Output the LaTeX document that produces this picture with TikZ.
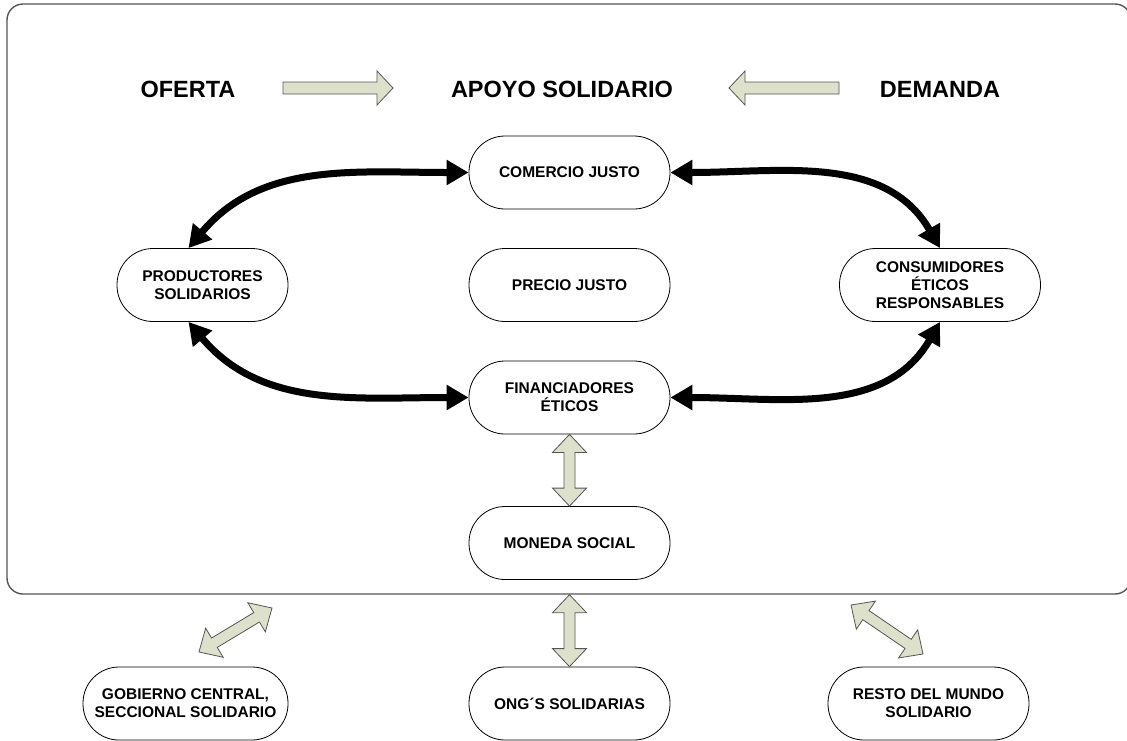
\documentclass[tikz,border=0pt]{standalone}
\usepackage{fontspec}
\setmainfont{Liberation Sans}
\usetikzlibrary{calc,arrows.meta}
\definecolor{sage}{RGB}{221,225,203}
\definecolor{edgegray}{RGB}{85,85,85}
\tikzset{
 pill/.style={draw=black, line width=0.8pt, fill=white, rounded corners=36pt, minimum width=201pt, minimum height=73pt, inner sep=2pt, align=center, font=\bfseries\fontsize{15.5}{17.8}\selectfont},
 biglabel/.style={font=\bfseries\fontsize{23.5}{27}\selectfont, inner sep=0pt},
 curvearrow/.style={line width=7pt, {Triangle[length=22pt,width=24pt]}-{Triangle[length=22pt,width=24pt]}},
 blockarrow/.style={draw=edgegray, line width=0.8pt, fill=sage, line join=miter},
 framebox/.style={draw=edgegray, line width=1.4pt, rounded corners=16pt, minimum width=1124pt, minimum height=590pt, inner sep=0pt}
}
\newcommand{\dblblock}[2]{%
 \draw[blockarrow] (#1)
 -- ($(#1)!18pt!(#2)!17pt!90:(#2)$)
 -- ($(#1)!18pt!(#2)!5.5pt!90:(#2)$)
 -- ($(#2)!18pt!(#1)!5.5pt!-90:(#1)$)
 -- ($(#2)!18pt!(#1)!17pt!-90:(#1)$)
 -- (#2)
 -- ($(#2)!18pt!(#1)!17pt!90:(#1)$)
 -- ($(#2)!18pt!(#1)!5.5pt!90:(#1)$)
 -- ($(#1)!18pt!(#2)!5.5pt!-90:(#2)$)
 -- ($(#1)!18pt!(#2)!17pt!-90:(#2)$)
 -- cycle;}
\newcommand{\sglblock}[2]{%
 \draw[blockarrow] ($(#1)!6pt!90:(#2)$)
 -- ($(#2)!16pt!(#1)!6pt!-90:(#1)$)
 -- ($(#2)!16pt!(#1)!17pt!-90:(#1)$)
 -- (#2)
 -- ($(#2)!16pt!(#1)!17pt!90:(#1)$)
 -- ($(#2)!16pt!(#1)!6pt!90:(#1)$)
 -- ($(#1)!6pt!-90:(#2)$)
 -- cycle;}
\begin{document}
\begin{tikzpicture}[x=1pt,y=1pt]
\useasboundingbox (0,0) rectangle (1127,-740);
\node[framebox] (frame) at (569,-299) {};

\node[biglabel] (ofe) at (188,-89) {OFERTA};
\node[biglabel] (apo) at (562,-89) {APOYO SOLIDARIO};
\node[biglabel] (dem) at (940,-89) {DEMANDA};
\coordinate (oa1) at (283,-88);
\coordinate (oa2) at (393,-88);
\coordinate (da1) at (839,-88);
\coordinate (da2) at (729,-88);
\sglblock{oa1}{oa2}
\sglblock{da1}{da2}

\node[pill] (com) at (569.5,-172.5) {COMERCIO JUSTO};
\node[pill, minimum width=171pt] (prod) at (202.5,-285) {PRODUCTORES\\SOLIDARIOS};
\node[pill] (pre) at (569.5,-285) {PRECIO JUSTO};
\node[pill] (cons) at (940,-285) {CONSUMIDORES\\ÉTICOS\\RESPONSABLES};
\node[pill] (fin) at (569.5,-397.5) {FINANCIADORES\\ÉTICOS};
\node[pill] (mon) at (569.5,-543) {MONEDA SOCIAL};
\node[pill, minimum width=205pt] (gob) at (185.5,-703.5) {GOBIERNO CENTRAL,\\SECCIONAL SOLIDARIO};
\node[pill] (ong) at (569.5,-703.5) {ONG´S SOLIDARIAS};
\node[pill] (resto) at (928.5,-703.5) {RESTO DEL MUNDO\\SOLIDARIO};

\draw[curvearrow] ([xshift=-14pt]prod.north) to[out=50,in=180] (com.west);
\draw[curvearrow] ([xshift=-14pt]prod.south) to[out=-50,in=180] (fin.west);
\draw[curvearrow] (com.east) to[out=0,in=120] (cons.north);
\draw[curvearrow] (fin.east) to[out=0,in=-120] (cons.south);

\dblblock{fin.south}{mon.north}
\coordinate (ongtop) at (frame.south -| ong.north);
\dblblock{ongtop}{ong.north}
\coordinate (g1) at (199,-652);
\coordinate (g2) at (272,-608);
\dblblock{g1}{g2}
\coordinate (r1) at (851,-605);
\coordinate (r2) at (923,-654);
\dblblock{r1}{r2}
\end{tikzpicture}
\end{document}
